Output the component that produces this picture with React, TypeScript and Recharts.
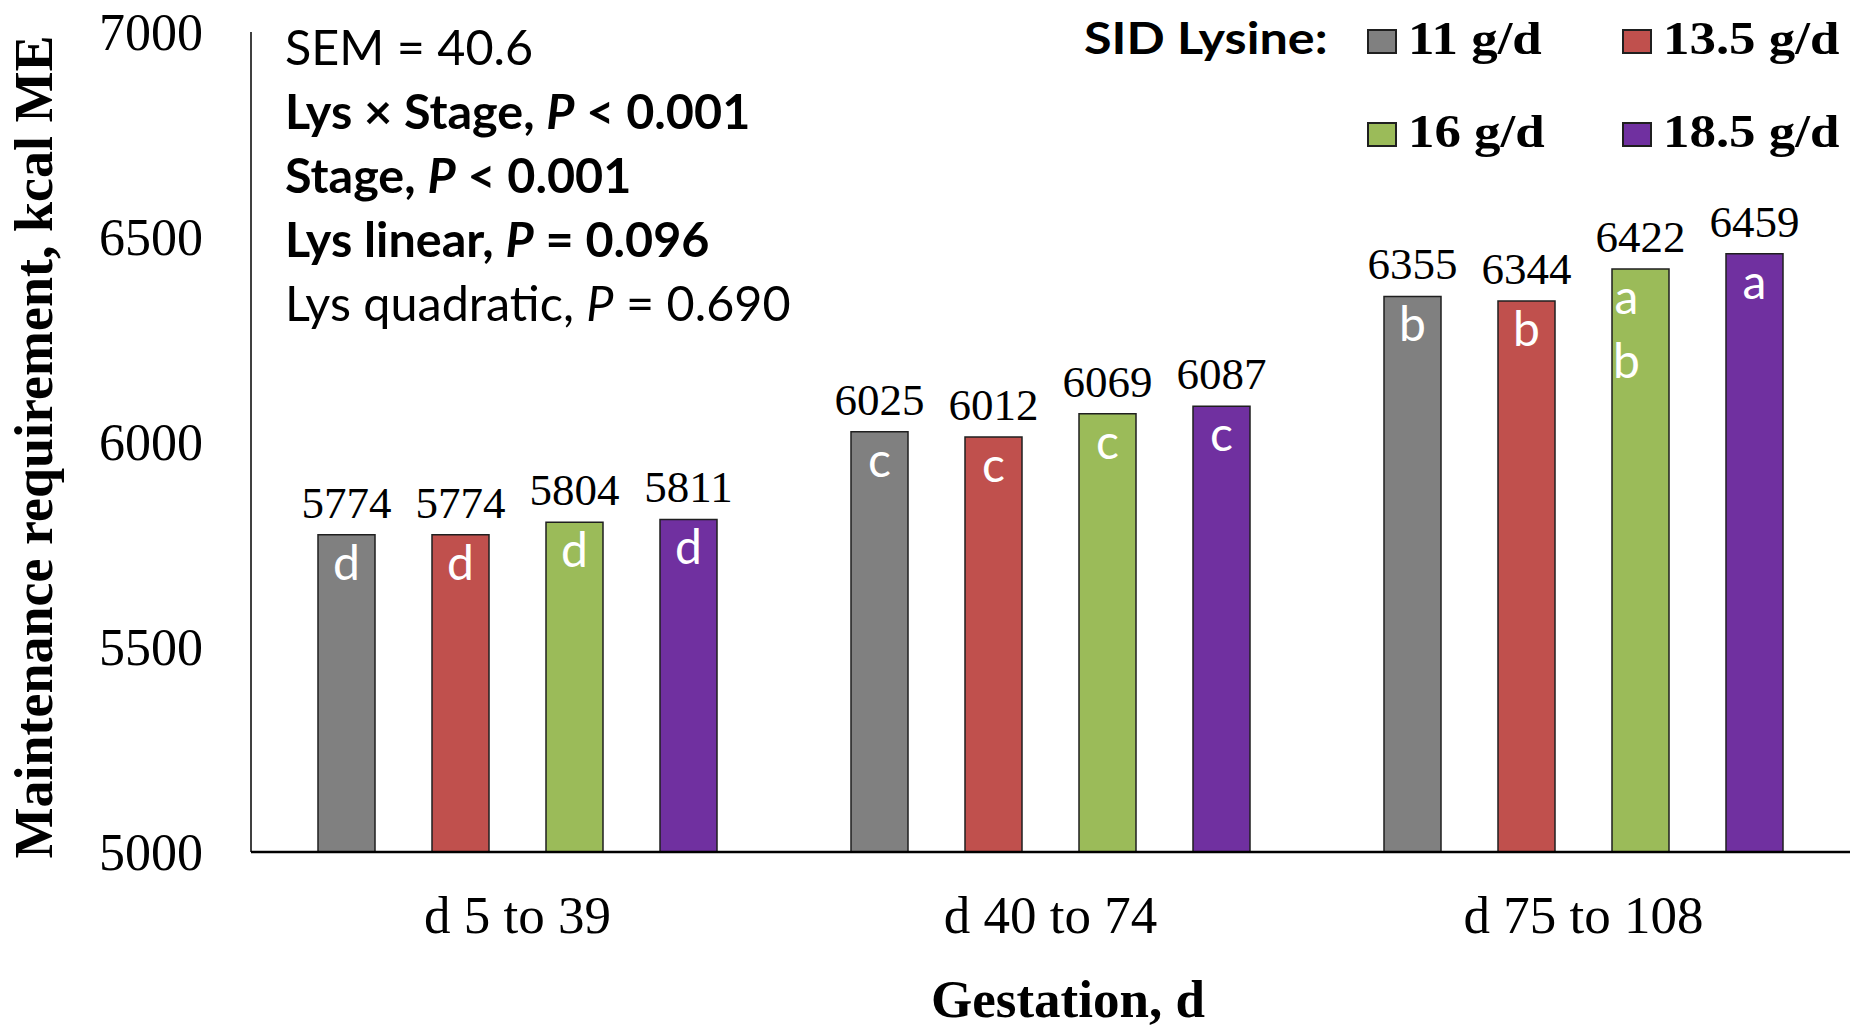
import { Bar, BarChart, LabelList, Legend, XAxis, YAxis } from 'recharts'

const serif = '"Liberation Serif", "Times New Roman", serif'
const sans = 'Lato, "Open Sans", sans-serif'

// gestation stages
const stages = ['d 5 to 39', 'd 40 to 74', 'd 75 to 108']

// SID lysine levels, kcal ME per stage
const lys11 = [5774, 6025, 6355]
const lys135 = [5774, 6012, 6344]
const lys16 = [5804, 6069, 6422]
const lys185 = [5811, 6087, 6459]

// mean separation letters
const sig11 = ['d', 'c', 'b']
const sig135 = ['d', 'c', 'b']
const sig16 = ['d', 'c', 'ab']
const sig185 = ['d', 'c', 'a']

const yTicks = [5000, 5500, 6000, 6500, 7000]

const series = [
  { key: 'v11', sig: 's11', name: '11 g/d', color: '#808080' },
  { key: 'v135', sig: 's135', name: '13.5 g/d', color: '#C0504D' },
  { key: 'v16', sig: 's16', name: '16 g/d', color: '#9BBB59' },
  { key: 'v185', sig: 's185', name: '18.5 g/d', color: '#7030A0' },
]

const data = stages.map((stage, i) => ({
  stage,
  v11: lys11[i],
  v135: lys135[i],
  v16: lys16[i],
  v185: lys185[i],
  s11: sig11[i],
  s135: sig135[i],
  s16: sig16[i],
  s185: sig185[i],
}))

const ValueLabel = (props: any) => {
  const { x, y, width, value } = props
  return (
    <text
      x={Number(x) + Number(width) / 2}
      y={Number(y) - 17}
      textAnchor="middle"
      fontFamily={serif}
      fontSize={45}
      fill="#000"
    >
      {value}
    </text>
  )
}

// letters stacked one per line, white, inside the top of the bar
const SigLabel = (props: any) => {
  const { x, y, width, value } = props
  const letters = String(value).split('')
  const dx = letters.length > 1 ? -14 : 0
  return (
    <g>
      {letters.map((ch, i) => (
        <text
          key={i}
          x={Number(x) + Number(width) / 2 + dx}
          y={Number(y) + 45 + i * 64}
          textAnchor="middle"
          fontFamily={sans}
          fontSize={48}
          fill="#fff"
        >
          {ch}
        </text>
      ))}
    </g>
  )
}

const XTick = ({ x, y, payload }: any) => (
  <text x={x} y={y + 81} textAnchor="middle" fontFamily={serif} fontSize={53} fill="#000">
    {payload.value}
  </text>
)

const YTick = ({ x, y, payload }: any) => (
  <text x={x - 48} y={y + 18} textAnchor="end" fontFamily={serif} fontSize={52} fill="#000">
    {payload.value}
  </text>
)

const LegendBox = ({ payload }: any) => {
  const cols = [318, 573]
  const rows = [54, 147]
  return (
    <svg width={812} height={170}>
      <text
        transform="translate(34, 54) scale(1.17, 1)"
        fontFamily={sans}
        fontWeight="bold"
        fontSize={43}
        fill="#000"
      >
        SID Lysine:
      </text>
      {(payload ?? []).map((item: any, i: number) => {
        const bx = cols[i % 2]
        const by = rows[Math.floor(i / 2)]
        return (
          <g key={item.value}>
            <rect x={bx} y={by - 24} width={28} height={23} fill={item.color} stroke="#1f1f1f" strokeWidth={2} />
            <text
              transform={`translate(${bx + 40}, ${by}) scale(1.15, 1)`}
              fontFamily={serif}
              fontWeight="bold"
              fontSize={46}
              fill="#000"
            >
              {item.value}
            </text>
          </g>
        )
      })}
    </svg>
  )
}

const notes = [
  { lead: 'SEM = 40.6', p: null, bold: false },
  { lead: 'Lys × Stage, ', p: ' < 0.001', bold: true },
  { lead: 'Stage, ', p: ' < 0.001', bold: true },
  { lead: 'Lys linear, ', p: ' = 0.096', bold: true },
  { lead: 'Lys quadratic, ', p: ' = 0.690', bold: false },
]

export default function App() {
  return (
    <div style={{ position: 'relative', width: 1862, height: 1030, background: '#fff' }}>
      <style>{'body { margin: 0; }'}</style>
      <BarChart
        width={1862}
        height={1030}
        data={data}
        margin={{ top: 32, right: 12, bottom: 0, left: 0 }}
        barSize={57}
        barGap={57}
      >
        <XAxis
          dataKey="stage"
          height={178}
          axisLine={{ stroke: '#000', strokeWidth: 2.5 }}
          tickLine={false}
          tickSize={0}
          tickMargin={0}
          tick={<XTick />}
          label={{
            content: () => (
              <text x={1068} y={1017} textAnchor="middle" fontFamily={serif} fontWeight="bold" fontSize={53} fill="#000">
                Gestation, d
              </text>
            ),
          }}
        />
        <YAxis
          width={251}
          domain={[5000, 7000]}
          ticks={yTicks}
          allowDataOverflow
          axisLine={{ stroke: '#000', strokeWidth: 1.5 }}
          tickLine={false}
          tickSize={0}
          tickMargin={0}
          tick={<YTick />}
          label={{
            content: () => (
              <text
                transform="translate(52, 447) rotate(-90)"
                textAnchor="middle"
                fontFamily={serif}
                fontWeight="bold"
                fontSize={54}
                fill="#000"
              >
                Maintenance requirement, kcal ME
              </text>
            ),
          }}
        />
        <Legend
          layout="horizontal"
          verticalAlign="middle"
          align="center"
          content={<LegendBox />}
          wrapperStyle={{ position: 'absolute', left: 1050, top: 0, width: 812, height: 170 }}
        />
        {series.map((s) => (
          <Bar
            key={s.key}
            dataKey={s.key}
            name={s.name}
            fill={s.color}
            stroke="#1f1f1f"
            strokeWidth={1.5}
            isAnimationActive={false}
          >
            <LabelList dataKey={s.key} content={<ValueLabel />} />
            <LabelList dataKey={s.sig} content={<SigLabel />} />
          </Bar>
        ))}
      </BarChart>
      <svg width={900} height={340} style={{ position: 'absolute', left: 0, top: 0, pointerEvents: 'none' }}>
        {notes.map((n, i) => (
          <text
            key={i}
            x={285}
            y={65 + i * 64}
            fontFamily={sans}
            fontSize={48.5}
            fontWeight={n.bold ? 'bold' : 'normal'}
            fill="#000"
          >
            {n.lead}
            {n.p !== null && (
              <>
                <tspan fontStyle="italic">P</tspan>
                {n.p}
              </>
            )}
          </text>
        ))}
      </svg>
    </div>
  )
}
